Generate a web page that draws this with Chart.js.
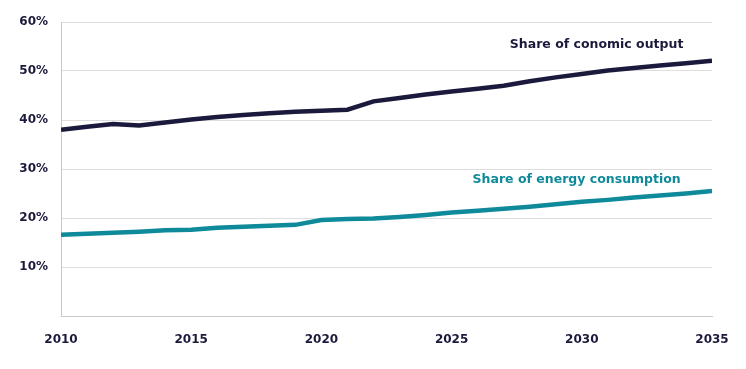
<!DOCTYPE html>
<html>
<head>
<meta charset="utf-8">
<script src="https://cdn.jsdelivr.net/npm/chart.js@4"></script>
<style>
    html, body { margin: 0; padding: 0; background: #fff; }
    #wrap { width: 746px; height: 369px; }
</style>
</head>
<body>
<div id="wrap"><canvas id="shareChart"></canvas></div>
<script>
const years = [2010, 2011, 2012, 2013, 2014, 2015, 2016, 2017, 2018, 2019, 2020, 2021, 2022,
               2023, 2024, 2025, 2026, 2027, 2028, 2029, 2030, 2031, 2032, 2033, 2034, 2035];
const economicOutput = [38.0, 38.6, 39.2, 38.9, 39.5, 40.1, 40.6, 41.0, 41.4, 41.7, 41.9, 42.1, 43.8,
                        44.5, 45.2, 45.8, 46.4, 47.0, 47.9, 48.7, 49.4, 50.1, 50.6, 51.1, 51.6, 52.1];
const energyConsumption = [16.6, 16.8, 17.0, 17.2, 17.5, 17.6, 18.0, 18.2, 18.4, 18.6, 19.6, 19.8, 19.9,
                           20.2, 20.6, 21.1, 21.5, 21.9, 22.3, 22.8, 23.3, 23.7, 24.2, 24.6, 25.0, 25.5];
const seriesLabels = ['Share of conomic output', 'Share of energy consumption'];
const labelAnchors = [[2033.9, 55.3], [2033.8, 27.8]];

const navy = '#1b1a3c';
const teal = '#0f8a9a';
const fontFamily = '"DejaVu Sans", sans-serif';

// draws the two series names next to their lines
const lineLabels = {
    id: 'lineLabels',
    afterDatasetsDraw(chart) {
        const ctx = chart.ctx;
        const x = chart.scales.x;
        const y = chart.scales.y;
        ctx.save();
        ctx.font = 'bold 12.5px ' + fontFamily;
        ctx.textAlign = 'right';
        ctx.textBaseline = 'middle';
        chart.data.datasets.forEach((ds, i) => {
            ctx.fillStyle = ds.borderColor;
            ctx.fillText(seriesLabels[i], x.getPixelForValue(labelAnchors[i][0]), y.getPixelForValue(labelAnchors[i][1]));
        });
        ctx.restore();
    }
};

new Chart(document.getElementById('shareChart').getContext('2d'), {
    type: 'line',
    data: {
        datasets: [{
            label: seriesLabels[0],
            data: years.map((yr, i) => ({ x: yr, y: economicOutput[i] })),
            borderColor: navy,
            borderWidth: 4.5,
            pointRadius: 0,
            tension: 0
        }, {
            label: seriesLabels[1],
            data: years.map((yr, i) => ({ x: yr, y: energyConsumption[i] })),
            borderColor: teal,
            borderWidth: 4.5,
            pointRadius: 0,
            tension: 0
        }]
    },
    options: {
        responsive: true,
        maintainAspectRatio: false,
        animation: false,
        layout: { padding: { left: 10, right: 34, top: 22, bottom: 8 } },
        plugins: {
            legend: { display: false },
            tooltip: { enabled: false }
        },
        scales: {
            x: {
                type: 'linear',
                min: 2010,
                max: 2035,
                grid: { display: false },
                border: { display: true, color: '#c8c8c8', width: 1 },
                ticks: {
                    stepSize: 5,
                    color: navy,
                    padding: 9,
                    font: { family: fontFamily, size: 12, weight: 'bold' },
                    callback: v => String(v)
                },
                afterFit: s => { s.height = 45; }
            },
            y: {
                min: 0,
                max: 60,
                grid: { color: '#dedede', lineWidth: 1, drawTicks: false },
                border: { display: true, color: '#c8c8c8', width: 1 },
                ticks: {
                    stepSize: 10,
                    color: navy,
                    padding: 13,
                    font: { family: fontFamily, size: 12, weight: 'bold' },
                    callback: v => v === 0 ? '' : v + '%'
                },
                afterFit: s => { s.width = 51; }
            }
        }
    },
    plugins: [lineLabels]
});
</script>
</body>
</html>
